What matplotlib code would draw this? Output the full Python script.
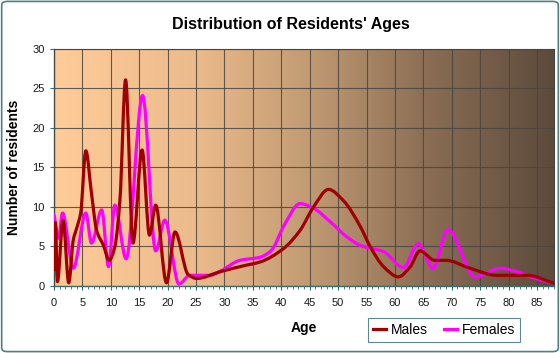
import numpy as np
import matplotlib
matplotlib.use("Agg")
import matplotlib.pyplot as plt
from matplotlib.path import Path
from matplotlib.patches import PathPatch, FancyBboxPatch
from matplotlib.colors import LinearSegmentedColormap
from matplotlib.lines import Line2D

plt.rcParams["font.family"] = ["Liberation Sans", "DejaVu Sans"]

# values (age, number of residents)
male_ages = [0, 0.25, 0.6, 1.6, 2.6, 3.4, 4.0, 4.7, 5.6, 6.6, 7.5, 8.7, 9.7, 10.7,
             11.6, 12.6, 13.9, 15.5, 16.8, 17.9, 19.8, 21.3, 23.6, 25.1, 29.2,
             33.3, 36.3, 40.4, 43.3, 45.7, 48.3, 50.9, 53.9, 55.6, 58.0, 60.6,
             62.7, 64.4, 67.0, 69.0, 73.2, 77.9, 83.2, 88.0]
male_vals = [2.0, 8.0, 0.5, 8.3, 0.35, 5.8, 7.3, 9.2, 17.1, 11.7, 7.0, 5.1, 3.2, 4.9,
             10.8, 26.1, 5.4, 17.2, 6.4, 10.2, 0.36, 6.8, 1.4, 0.9, 1.75,
             2.5, 3.0, 4.7, 7.0, 10.0, 12.2, 10.8, 7.5, 5.0, 2.4, 1.1,
             2.4, 4.4, 3.2, 3.2, 2.2, 1.3, 1.3, 0.3]

female_ages = [0, 0.8, 1.5, 3.4, 5.6, 6.6, 8.4, 9.6, 10.7, 12.7, 15.6, 17.9, 19.5,
               22.0, 23.9, 27.5, 29.2, 32.7, 36.3, 38.3, 40.4, 43.3, 45.7, 48.6,
               51.5, 53.9, 58.0, 61.5, 64.1, 66.7, 69.3, 74.1, 78.5, 81.5, 83.8, 88.0]
female_vals = [9.0, 6.0, 9.2, 2.2, 9.2, 5.4, 9.6, 2.4, 10.2, 3.4, 24.1, 4.4, 8.3,
               0.2, 1.3, 1.3, 1.8, 3.2, 3.6, 4.5, 7.5, 10.4, 9.8, 8.1,
               6.2, 5.1, 4.3, 2.3, 5.3, 2.2, 7.1, 1.1, 2.2, 1.75, 1.1, 0.3]

x_ticks = list(range(0, 90, 5))
y_ticks = list(range(0, 35, 5))


def smooth_path(xs, ys):
    # cubic bezier through the points, flat tangents at peaks and troughs
    xs = np.asarray(xs, float)
    ys = np.asarray(ys, float)
    h = np.diff(xs)
    d = np.diff(ys) / h
    m = np.zeros_like(ys)
    m[0], m[-1] = d[0], d[-1]
    for i in range(1, len(xs) - 1):
        if d[i - 1] * d[i] > 0:
            w1 = 2 * h[i] + h[i - 1]
            w2 = h[i] + 2 * h[i - 1]
            m[i] = (w1 + w2) / (w1 / d[i - 1] + w2 / d[i])
    verts = [(xs[0], ys[0])]
    codes = [Path.MOVETO]
    for i in range(len(xs) - 1):
        verts += [(xs[i] + h[i] / 3, ys[i] + m[i] * h[i] / 3),
                  (xs[i + 1] - h[i] / 3, ys[i + 1] - m[i + 1] * h[i] / 3),
                  (xs[i + 1], ys[i + 1])]
        codes += [Path.CURVE4] * 3
    return Path(verts, codes)


fig = plt.figure(figsize=(5.6, 3.53), dpi=100)
fig.patch.set_facecolor("white")
fig.patches.append(FancyBboxPatch((0.003, 0.004), 0.994, 0.992,
                                  boxstyle="round,pad=0,rounding_size=0.01",
                                  transform=fig.transFigure, facecolor="none",
                                  edgecolor="#4f7f7f", linewidth=1.2))

ax = fig.add_axes([0.0964, 0.191, 0.893, 0.670])
xmax = 88

bg = LinearSegmentedColormap.from_list(
    "bg", [(0, "#ffcc99"), (0.28, "#ecbb8c"), (0.5, "#c39c74"),
           (0.75, "#8a6d54"), (1, "#5c4a3b")])
ax.imshow(np.linspace(0, 1, 256).reshape(1, -1), cmap=bg, aspect="auto",
          extent=[0, xmax, 0, 30], zorder=0)

ax.set_xlim(0, xmax)
ax.set_ylim(0, 30)
ax.set_xticks(x_ticks)
ax.set_xticks(range(0, xmax + 1), minor=True)
ax.set_yticks(y_ticks)
ax.grid(True, color="#4a4540", linewidth=0.8, alpha=0.85)
ax.set_axisbelow(False)
for s in ["top", "right"]:
    ax.spines[s].set_color("#444444")
    ax.spines[s].set_linewidth(0.8)
for s in ["left", "bottom"]:
    ax.spines[s].set_color("#2f6f6f")
    ax.spines[s].set_linewidth(1.0)
ax.tick_params(axis="both", which="both", colors="#2f6f6f", labelcolor="#1a1a1a",
               labelsize=8, length=3, direction="out")
ax.tick_params(axis="x", which="minor", length=2.5)
ax.tick_params(axis="x", pad=6)

ax.add_patch(PathPatch(smooth_path(female_ages, female_vals), facecolor="none",
                       edgecolor="#ff00ff", linewidth=2.3, zorder=3,
                       capstyle="round", joinstyle="round"))
ax.add_patch(PathPatch(smooth_path(male_ages, male_vals), facecolor="none",
                       edgecolor="#a00000", linewidth=2.3, zorder=4,
                       capstyle="round", joinstyle="round"))

fig.text(0.52, 0.932, "Distribution of Residents' Ages", ha="center", va="center",
         fontsize=11.5, fontweight="bold")
ax.set_xlabel("Age", fontsize=10, fontweight="bold", labelpad=9)
ax.set_ylabel("Number of residents", fontsize=10, fontweight="bold", labelpad=8)

handles = [Line2D([], [], color="#a00000", linewidth=2.3),
           Line2D([], [], color="#ff00ff", linewidth=2.3)]
leg = fig.legend(handles, ["Males", "Females"], loc="center",
                 bbox_to_anchor=(0.793, 0.066), ncol=2, fontsize=10,
                 handlelength=0.9, handletextpad=0.35, columnspacing=1.2,
                 frameon=True, fancybox=False, borderpad=0.35)
leg.get_frame().set_edgecolor("#2f6f6f")
leg.get_frame().set_facecolor("none")
leg.get_frame().set_linewidth(0.8)

fig.savefig("out.png", dpi=100)
